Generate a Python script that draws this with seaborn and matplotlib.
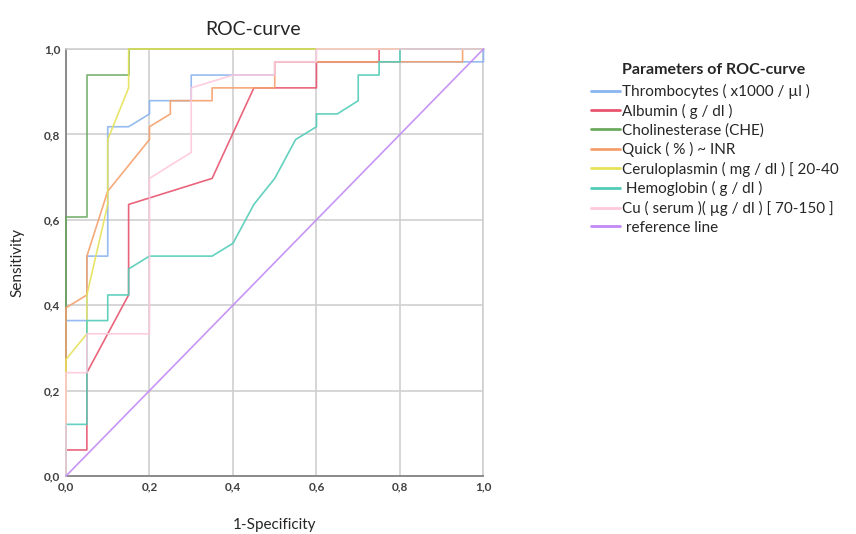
import numpy as np
import pandas as pd
import matplotlib
matplotlib.use("Agg")
import matplotlib.pyplot as plt
import seaborn as sns

# roc curve points (x = 1-specificity, y = sensitivity)
names = ['Thrombocytes ( x1000 / µl )', 'Albumin ( g / dl )', 'Cholinesterase (CHE)',
         'Quick ( % ) ~ INR', 'Ceruloplasmin ( mg / dl ) [ 20-40', ' Hemoglobin ( g / dl )',
         'Cu ( serum )( µg / dl ) [ 70-150 ]', ' reference line']

thrombo_x = [0, 0, 0.05, 0.05, 0.1, 0.1, 0.15, 0.2, 0.2, 0.3, 0.3, 0.5, 0.5, 1.0, 1.0]
thrombo_y = [0, 0.364, 0.364, 0.515, 0.515, 0.818, 0.818, 0.848, 0.879, 0.879, 0.939, 0.939, 0.97, 0.97, 1.0]

albumin_x = [0, 0, 0.05, 0.05, 0.15, 0.15, 0.35, 0.45, 0.6, 0.6, 0.75, 0.75, 1.0]
albumin_y = [0, 0.061, 0.061, 0.242, 0.424, 0.636, 0.697, 0.909, 0.909, 0.97, 0.97, 1.0, 1.0]

che_x = [0, 0, 0.05, 0.05, 0.15, 0.15, 1.0]
che_y = [0, 0.606, 0.606, 0.939, 0.939, 1.0, 1.0]

quick_x = [0, 0, 0.05, 0.05, 0.1, 0.2, 0.2, 0.25, 0.25, 0.35, 0.35, 0.5, 0.5, 0.95, 0.95, 1.0]
quick_y = [0, 0.394, 0.424, 0.515, 0.667, 0.788, 0.818, 0.848, 0.879, 0.879, 0.909, 0.909, 0.97, 0.97, 1.0, 1.0]

cerulo_x = [0, 0, 0.05, 0.05, 0.1, 0.1, 0.15, 0.15, 1.0]
cerulo_y = [0, 0.273, 0.333, 0.424, 0.636, 0.788, 0.909, 1.0, 1.0]

hemo_x = [0, 0, 0.05, 0.05, 0.1, 0.1, 0.15, 0.15, 0.2, 0.35, 0.4, 0.45, 0.5, 0.55, 0.6, 0.6,
          0.65, 0.7, 0.7, 0.75, 0.75, 0.8, 0.8, 1.0]
hemo_y = [0, 0.121, 0.121, 0.364, 0.364, 0.424, 0.424, 0.485, 0.515, 0.515, 0.545, 0.636, 0.697,
          0.788, 0.818, 0.848, 0.848, 0.879, 0.939, 0.939, 0.97, 0.97, 1.0, 1.0]

cu_x = [0, 0, 0.05, 0.05, 0.2, 0.2, 0.3, 0.3, 0.4, 0.5, 0.5, 0.6, 0.6, 1.0]
cu_y = [0, 0.242, 0.242, 0.333, 0.333, 0.697, 0.758, 0.909, 0.939, 0.939, 0.97, 0.97, 1.0, 1.0]

ref_x = [0, 1.0]
ref_y = [0, 1.0]

colors = ['#8ab4f0', '#e8546e', '#6baa5e', '#f5a06c', '#e6e25a', '#52ccb8', '#ffc8dd', '#c28af5']

all_x = [thrombo_x, albumin_x, che_x, quick_x, cerulo_x, hemo_x, cu_x, ref_x]
all_y = [thrombo_y, albumin_y, che_y, quick_y, cerulo_y, hemo_y, cu_y, ref_y]

# long dataframe for seaborn, keep point order
rows = []
for name, xs, ys in zip(names, all_x, all_y):
    for i, (x, y) in enumerate(zip(xs, ys)):
        rows.append({'curve': name, 'order': i, 'fpr': x, 'tpr': y})
df = pd.DataFrame(rows)

sns.set_style('white')
plt.rcParams['font.family'] = ['Lato', 'DejaVu Sans']

fig = plt.figure(figsize=(8.56, 5.34), dpi=100)
ax = fig.add_axes([0.0771, 0.1086, 0.4877, 0.7996])

sns.lineplot(data=df, x='fpr', y='tpr', hue='curve', hue_order=names, palette=colors,
             sort=False, estimator=None, linewidth=1.2, ax=ax, legend=False, zorder=3)
# curves run along the frame at y=1 and x=0, don't cut them in half
for ln in ax.lines:
    ln.set_clip_on(False)
    ln.set_alpha(0.9)

ax.set_xlim(0, 1)
ax.set_ylim(0, 1)
ticks = [0, 0.2, 0.4, 0.6, 0.8, 1.0]
tick_labels = ['0,0', '0,2', '0,4', '0,6', '0,8', '1,0']
ax.set_xticks(ticks)
ax.set_yticks(ticks)
ax.set_xticklabels(tick_labels, fontsize=8.5, color='#404040', fontweight='bold')
ax.set_yticklabels(tick_labels, fontsize=8.5, color='#404040', fontweight='bold')
ax.tick_params(length=0, pad=4)
ax.grid(True, color='#cfcfcf', linewidth=1.2, zorder=0)
ax.set_axisbelow(True)
for side in ['top', 'right']:
    ax.spines[side].set_color('#cfcfcf')
    ax.spines[side].set_linewidth(1.2)
for side in ['left', 'bottom']:
    ax.spines[side].set_color('#8a8a8a')
    ax.spines[side].set_linewidth(1.4)

ax.set_title('ROC-curve', fontsize=14, pad=10, x=0.448)
ax.set_xlabel('1-Specificity', fontsize=11, labelpad=18)
ax.set_ylabel('Sensitivity', fontsize=11, labelpad=14)

# legend on the right, title as separate text so it lines up with the labels
handles = [plt.Line2D([], [], color=c, linewidth=2) for c in colors]
fig.text(0.7266, 0.869, 'Parameters of ROC-curve', fontsize=11.5, fontweight='bold', va='center')
fig.legend(handles, names, loc='upper left', bbox_to_anchor=(0.6904, 0.843), frameon=False,
           fontsize=11, handlelength=1.9, handletextpad=0.15, labelspacing=0.3, borderpad=0,
           borderaxespad=0)

plt.savefig('out.png', dpi=100)
